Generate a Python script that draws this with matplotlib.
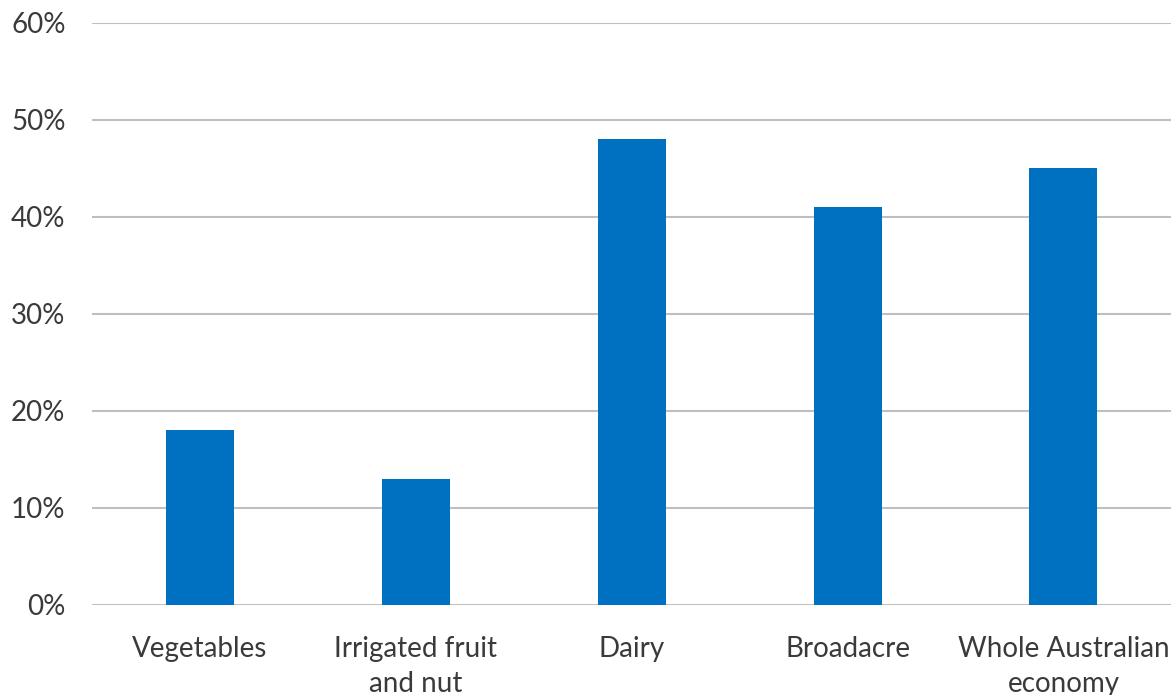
import matplotlib.pyplot as plt
from matplotlib.ticker import FuncFormatter

categories = ['Vegetables', 'Irrigated fruit\nand nut', 'Dairy', 'Broadacre', 'Whole Australian\neconomy']
values = [18, 13, 48, 41, 45]
yticks = [0, 10, 20, 30, 40, 50, 60]

plt.rcParams['font.family'] = ['Lato', 'DejaVu Sans']

fig = plt.figure(figsize=(11.72, 6.95), dpi=100)
ax = fig.add_axes([0.0785, 0.1295, 0.921, 0.838])

x = range(len(categories))
ax.bar(x, values, width=0.315, color='#0070c0', zorder=3)

ax.set_xlim(-0.5, len(categories) - 0.5)
ax.set_ylim(0, 60)
ax.set_yticks(yticks)
ax.yaxis.set_major_formatter(FuncFormatter(lambda v, p: f'{v:.0f}%'))
ax.grid(axis='y', color='#bfbfbf', linewidth=1.5, zorder=0)
ax.set_xticks(list(x))
ax.set_xticklabels(categories, linespacing=1.45)

for s in ax.spines.values():
    s.set_visible(False)
ax.tick_params(axis='both', length=0, labelsize=20, colors='#3a3a3a')
ax.tick_params(axis='y', pad=19)
ax.tick_params(axis='x', pad=22)

fig.savefig('out.png', dpi=100)
